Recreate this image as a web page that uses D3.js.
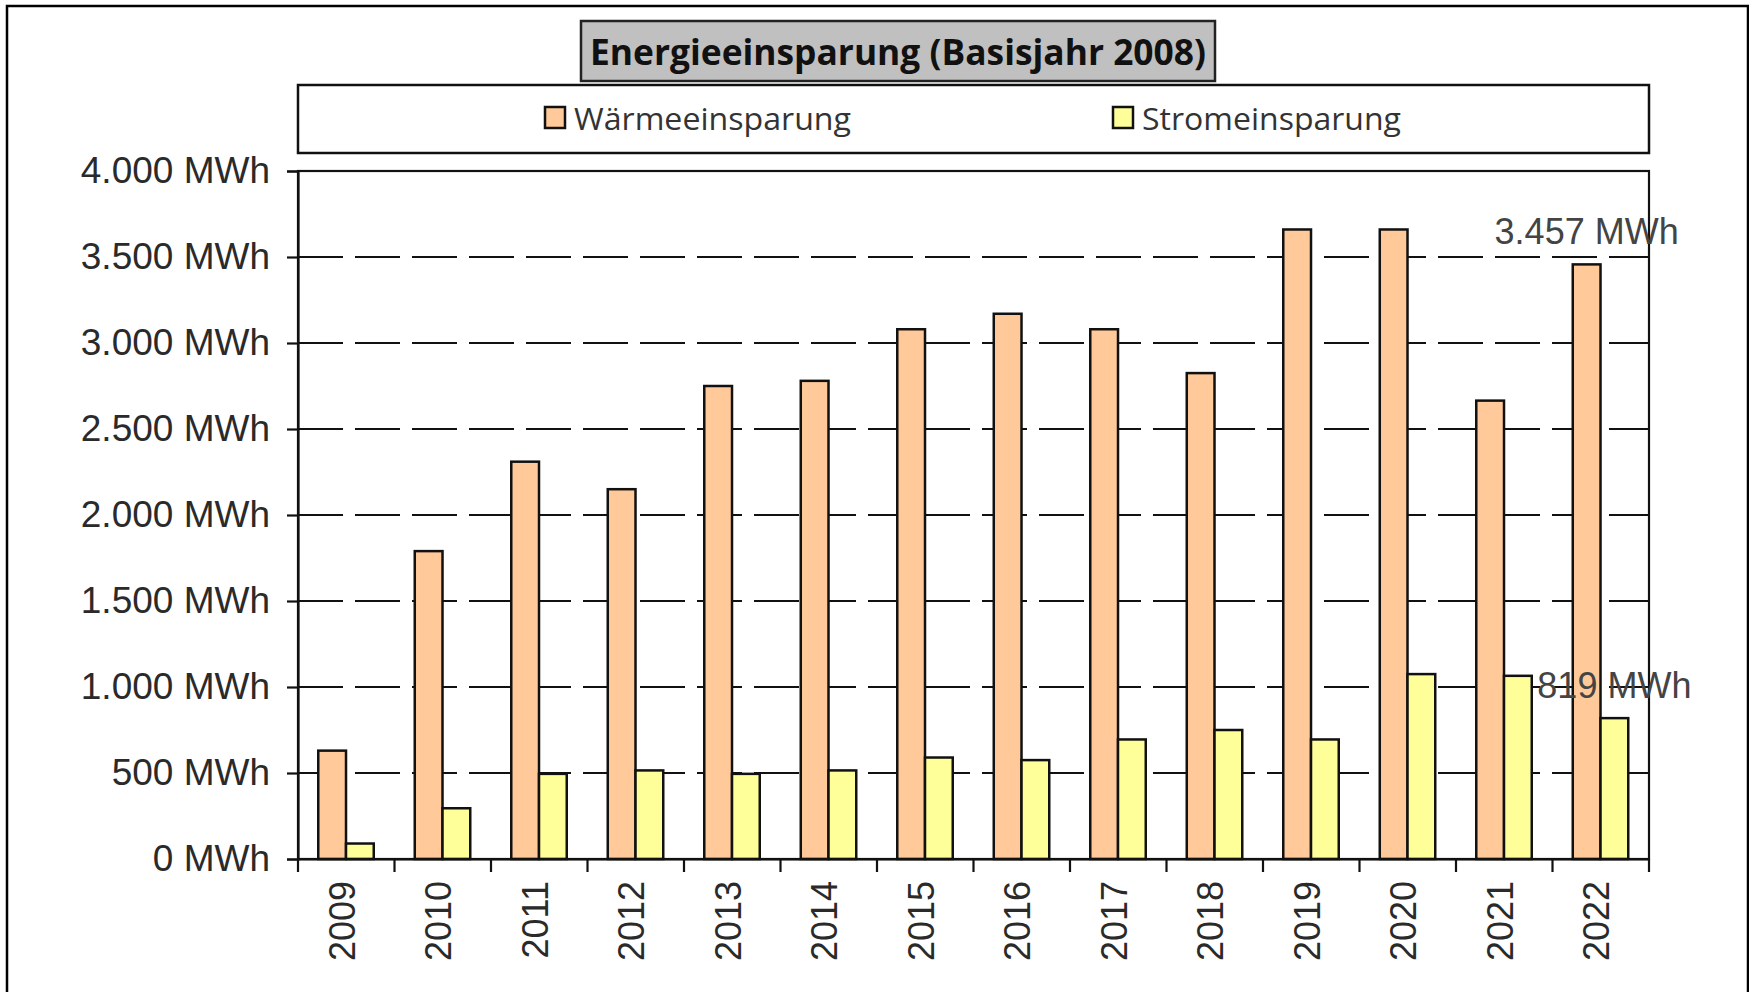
<!DOCTYPE html>
<html>
<head>
<meta charset="utf-8">
<script src="https://cdn.jsdelivr.net/npm/d3@7"></script>
<style>
  body { margin: 0; background: #fff; }
  svg { display: block; }
</style>
</head>
<body>
<script>
// Constants
const width = 1749;
const height = 992;
const plot = {left: 298, right: 1649, top: 171, bottom: 859};

// Data
const years = ["2009", "2010", "2011", "2012", "2013", "2014", "2015",
               "2016", "2017", "2018", "2019", "2020", "2021", "2022"];
const seriesNames = ["Wärmeeinsparung", "Stromeinsparung"];
const waerme = [630, 1790, 2310, 2150, 2750, 2780, 3080, 3170, 3080, 2825, 3660, 3660, 2665, 3457];
const strom = [90, 295, 495, 515, 495, 515, 590, 575, 695, 750, 695, 1075, 1065, 819];
const yTicks = [0, 500, 1000, 1500, 2000, 2500, 3000, 3500, 4000];
const colors = ["#FFC999", "#FFFF99"];

const fmt = v => d3.format(",")(v).replace(/,/g, ".") + " MWh";

var svg = d3.select("body")
    .append("svg")
    .attr("width", width)
    .attr("height", height)

// outer frame
svg.append("rect")
    .attr("x", 7).attr("y", 6)
    .attr("width", 1741).attr("height", 1000)
    .attr("fill", "none")
    .attr("stroke", "#000")
    .attr("stroke-width", 2.5)

// title box
svg.append("rect")
    .attr("x", 581).attr("y", 21)
    .attr("width", 634).attr("height", 60)
    .attr("fill", "#C0C0C0")
    .attr("stroke", "#222")
    .attr("stroke-width", 2.5)

svg.append("text")
    .attr("x", 898).attr("y", 51)
    .attr("text-anchor", "middle")
    .attr("dominant-baseline", "central")
    .attr("font-family", "'Open Sans', sans-serif")
    .attr("font-weight", "bold")
    .attr("font-size", 35)
    .attr("textLength", 616)
    .attr("lengthAdjust", "spacingAndGlyphs")
    .attr("fill", "#111")
    .text("Energieeinsparung (Basisjahr 2008)")

// legend
svg.append("rect")
    .attr("x", plot.left).attr("y", 85)
    .attr("width", plot.right - plot.left).attr("height", 68)
    .attr("fill", "#fff")
    .attr("stroke", "#111")
    .attr("stroke-width", 2.5)

const legendX = [545, 1113];
const legendW = [277, 259];
const legend = svg.selectAll(".legend")
    .data(seriesNames)
    .enter()
    .append("g")
    .attr("transform", (d, i) => `translate(${legendX[i]},107)`)

legend.append("rect")
    .attr("width", 20).attr("height", 21)
    .attr("fill", (d, i) => colors[i])
    .attr("stroke", "#111")
    .attr("stroke-width", 2.5)

legend.append("text")
    .attr("x", 29).attr("y", 11)
    .attr("dominant-baseline", "central")
    .attr("font-family", "'Open Sans', sans-serif")
    .attr("font-size", 31)
    .attr("textLength", (d, i) => legendW[i])
    .attr("lengthAdjust", "spacingAndGlyphs")
    .attr("fill", "#333")
    .text(d => d)

// scales
const x0 = d3.scaleBand()
    .domain(years)
    .range([plot.left, plot.right])

const x1 = d3.scaleBand()
    .domain(seriesNames)
    .range([x0.bandwidth() * 0.21, x0.bandwidth() * 0.785])

const y = d3.scaleLinear()
    .domain([0, 4000])
    .range([plot.bottom, plot.top])

// grid lines
svg.append("g")
    .selectAll("line")
    .data(yTicks.filter(t => t > 0 && t < 4000))
    .enter()
    .append("line")
    .attr("x1", plot.left).attr("x2", plot.right)
    .attr("y1", d => y(d)).attr("y2", d => y(d))
    .attr("stroke", "#111")
    .attr("stroke-width", 2.2)
    .attr("stroke-dasharray", "45,12")

// bars
const rows = years.map((yr, i) => ({year: yr, values: [waerme[i], strom[i]]}));

const groups = svg.append("g")
    .selectAll("g")
    .data(rows)
    .enter()
    .append("g")
    .attr("transform", d => `translate(${x0(d.year)},0)`)

groups.selectAll("rect")
    .data(d => d.values.map((v, i) => ({key: seriesNames[i], value: v, i: i})))
    .enter()
    .append("rect")
    .attr("x", d => x1(d.key))
    .attr("width", x1.bandwidth())
    .attr("y", d => y(d.value))
    .attr("height", d => y(0) - y(d.value))
    .attr("fill", d => colors[d.i])
    .attr("stroke", "#111")
    .attr("stroke-width", 2.5)

// plot frame
svg.append("rect")
    .attr("x", plot.left).attr("y", plot.top)
    .attr("width", plot.right - plot.left).attr("height", plot.bottom - plot.top)
    .attr("fill", "none")
    .attr("stroke", "#111")
    .attr("stroke-width", 2.2)

// y axis
const yAxis = svg.append("g")
    .attr("transform", `translate(${plot.left},0)`)
    .call(d3.axisLeft(y).tickValues(yTicks).tickSize(11).tickPadding(17).tickFormat(fmt))

yAxis.select(".domain").attr("stroke", "#111").attr("stroke-width", 2.2)
yAxis.selectAll(".tick line").attr("stroke", "#111").attr("stroke-width", 2.2)
yAxis.selectAll(".tick text")
    .attr("font-family", "'Liberation Sans', Arial, sans-serif")
    .attr("font-size", 37)
    .attr("fill", "#2a2a2a")

// x axis
const xAxis = svg.append("g")
    .attr("transform", `translate(0,${plot.bottom})`)
    .call(d3.axisBottom(x0).tickSize(0).tickFormat(d => d))

xAxis.select(".domain").attr("stroke", "#111").attr("stroke-width", 2.2)

xAxis.selectAll(".tick text")
    .attr("font-family", "'Liberation Sans', Arial, sans-serif")
    .attr("font-size", 36)
    .attr("fill", "#2a2a2a")
    .attr("text-anchor", "end")
    .attr("transform", "rotate(-90)")
    .attr("x", -22)
    .attr("y", -4)
    .attr("dy", "0.35em")

// ticks at band edges
svg.append("g")
    .selectAll("line")
    .data(years.concat(["end"]))
    .enter()
    .append("line")
    .attr("x1", (d, i) => plot.left + i * x0.bandwidth())
    .attr("x2", (d, i) => plot.left + i * x0.bandwidth())
    .attr("y1", plot.bottom).attr("y2", plot.bottom + 13)
    .attr("stroke", "#111")
    .attr("stroke-width", 2.2)

// value labels for last year
const last = rows[rows.length - 1];
svg.append("g")
    .selectAll("text")
    .data(last.values.map((v, i) => ({key: seriesNames[i], value: v})))
    .enter()
    .append("text")
    .attr("x", d => x0(last.year) + x1(d.key) + x1.bandwidth() / 2)
    .attr("y", d => y(d.value) - 20)
    .attr("text-anchor", "middle")
    .attr("font-family", "'Liberation Sans', Arial, sans-serif")
    .attr("font-size", 36)
    .attr("fill", "#444")
    .text(d => fmt(d.value))
</script>
</body>
</html>
